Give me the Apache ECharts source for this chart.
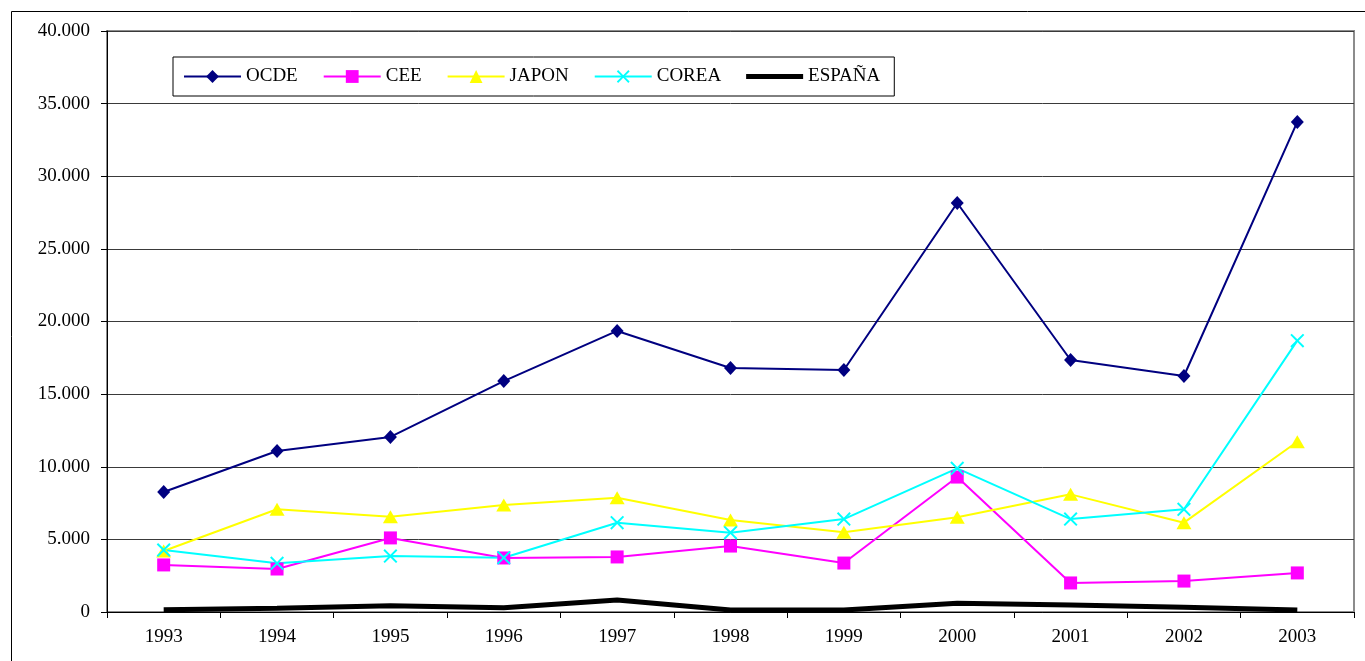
<!DOCTYPE html>
<html>
<head>
<meta charset="utf-8">
<script src="https://cdn.jsdelivr.net/npm/echarts@6/dist/echarts.min.js"></script>
<style>
    html, body { margin: 0; padding: 0; background: #fff; }
    #chart { width: 1365px; height: 661px; }
</style>
</head>
<body>
<div id="chart"></div>
<script>
    // años
    var years = ['1993', '1994', '1995', '1996', '1997', '1998', '1999', '2000', '2001', '2002', '2003'];

    // valores
    var ocde = [8260, 11080, 12050, 15900, 19350, 16800, 16660, 28160, 17350, 16250, 33740];
    var cee = [3240, 2960, 5100, 3720, 3790, 4540, 3370, 9290, 2000, 2130, 2690];
    var japon = [4200, 7070, 6560, 7370, 7870, 6330, 5490, 6520, 8100, 6150, 11720];
    var corea = [4270, 3350, 3850, 3740, 6150, 5460, 6400, 9890, 6400, 7070, 18680];
    var espana = [150, 250, 430, 300, 830, 140, 140, 600, 480, 320, 140];

    var fontName = 'Liberation Serif';
    var crossPath = 'path://M0,1 L1,0 L5,4 L9,0 L10,1 L6,5 L10,9 L9,10 L5,6 L1,10 L0,9 L4,5 Z';
    var thickLine = 'path://M0,0 L57,0 L57,5 L0,5 Z';

    function miles(v) {
        return String(v).replace(/\B(?=(\d{3})+(?!\d))/g, '.');
    }

    var chart = echarts.init(document.getElementById('chart'));
    var option = {
        animation: false,
        backgroundColor: '#fff',
        textStyle: { fontFamily: fontName },
        graphic: [
            {
                type: 'rect',
                shape: { x: 11.5, y: 11.5, width: 1400, height: 700 },
                style: { fill: 'none', stroke: '#000', lineWidth: 1 },
                z: -1
            }
        ],
        grid: {
            left: 107,
            right: 11,
            top: 31,
            bottom: 49,
            show: true,
            borderColor: '#8c8c8c',
            borderWidth: 2
        },
        legend: {
            left: 173,
            top: 57,
            orient: 'horizontal',
            backgroundColor: '#fff',
            borderColor: '#000',
            borderWidth: 1,
            padding: [10, 14, 10, 10],
            itemWidth: 57,
            itemHeight: 16,
            itemGap: 25,
            textStyle: { fontFamily: fontName, fontSize: 19, color: '#000' },
            data: [
                'OCDE', 'CEE', 'JAPON', 'COREA',
                { name: 'ESPAÑA', icon: thickLine, symbolKeepAspect: true }
            ]
        },
        xAxis: {
            type: 'category',
            data: years,
            boundaryGap: true,
            axisLine: { show: true, lineStyle: { color: '#000', width: 1 } },
            axisTick: { show: true, inside: false, length: 6, alignWithLabel: false, lineStyle: { color: '#000' } },
            axisLabel: { interval: 0, margin: 16, fontFamily: fontName, fontSize: 19, color: '#000' },
            splitLine: { show: false }
        },
        yAxis: {
            type: 'value',
            min: 0,
            max: 40000,
            interval: 5000,
            axisLine: { show: true, lineStyle: { color: '#000', width: 1 } },
            axisTick: { show: true, inside: false, length: 6, lineStyle: { color: '#000' } },
            axisLabel: {
                margin: 17,
                fontFamily: fontName,
                fontSize: 19,
                color: '#000',
                formatter: function (v) { return miles(v); }
            },
            splitLine: { show: true, lineStyle: { color: '#3a3a3a', width: 1 } }
        },
        series: [
            {
                name: 'OCDE',
                type: 'line',
                data: ocde,
                symbol: 'diamond',
                symbolSize: [13, 14],
                color: '#000080',
                lineStyle: { color: '#000080', width: 2 },
                itemStyle: { color: '#000080' }
            },
            {
                name: 'CEE',
                type: 'line',
                data: cee,
                symbol: 'rect',
                symbolSize: 13,
                color: '#ff00ff',
                lineStyle: { color: '#ff00ff', width: 2 },
                itemStyle: { color: '#ff00ff' }
            },
            {
                name: 'JAPON',
                type: 'line',
                data: japon,
                symbol: 'triangle',
                symbolSize: [15, 13],
                color: '#ffff00',
                lineStyle: { color: '#ffff00', width: 2 },
                itemStyle: { color: '#ffff00' }
            },
            {
                name: 'COREA',
                type: 'line',
                data: corea,
                symbol: crossPath,
                symbolSize: 14,
                color: '#00ffff',
                lineStyle: { color: '#00ffff', width: 2 },
                itemStyle: { color: '#00ffff' }
            },
            {
                name: 'ESPAÑA',
                type: 'line',
                data: espana,
                symbol: 'none',
                color: '#000',
                itemStyle: { color: '#000' },
                lineStyle: { color: '#000', width: 5 }
            }
        ]
    };
    chart.setOption(option);
</script>
</body>
</html>
